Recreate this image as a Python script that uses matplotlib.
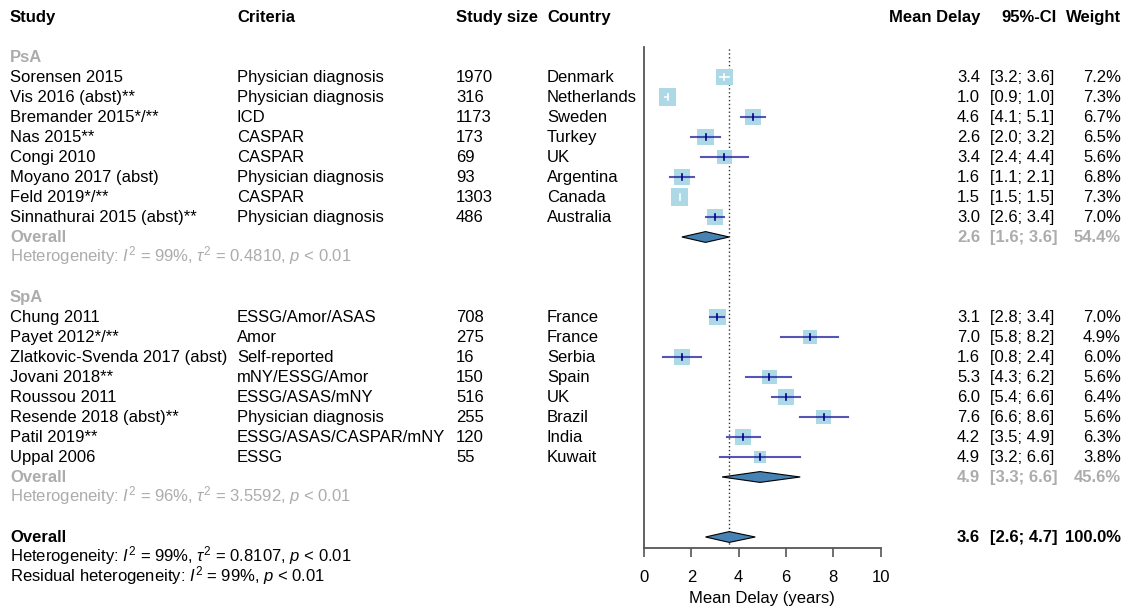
import matplotlib
matplotlib.use("Agg")
from matplotlib import pyplot as plt
from matplotlib import transforms
import numpy as np

plt.rcParams["font.family"] = ["Liberation Sans", "DejaVu Sans"]
plt.rcParams["mathtext.fontset"] = "custom"
plt.rcParams["mathtext.rm"] = "Liberation Sans"
plt.rcParams["mathtext.it"] = "Liberation Sans:italic"

# PsA studies
psa_study = ["Sorensen 2015", "Vis 2016 (abst)**", "Bremander 2015*/**", "Nas 2015**",
             "Congi 2010", "Moyano 2017 (abst)", "Feld 2019*/**", "Sinnathurai 2015 (abst)**"]
psa_criteria = ["Physician diagnosis", "Physician diagnosis", "ICD", "CASPAR",
                "CASPAR", "Physician diagnosis", "CASPAR", "Physician diagnosis"]
psa_size = [1970, 316, 1173, 173, 69, 93, 1303, 486]
psa_country = ["Denmark", "Netherlands", "Sweden", "Turkey", "UK", "Argentina", "Canada", "Australia"]
psa_mean = [3.4, 1.0, 4.6, 2.6, 3.4, 1.6, 1.5, 3.0]
psa_lo = [3.2, 0.9, 4.1, 2.0, 2.4, 1.1, 1.5, 2.6]
psa_hi = [3.6, 1.0, 5.1, 3.2, 4.4, 2.1, 1.5, 3.4]
psa_w = [7.2, 7.3, 6.7, 6.5, 5.6, 6.8, 7.3, 7.0]

# SpA studies
spa_study = ["Chung 2011", "Payet 2012*/**", "Zlatkovic-Svenda 2017 (abst)", "Jovani 2018**",
             "Roussou 2011", "Resende 2018 (abst)**", "Patil 2019**", "Uppal 2006"]
spa_criteria = ["ESSG/Amor/ASAS", "Amor", "Self-reported", "mNY/ESSG/Amor",
                "ESSG/ASAS/mNY", "Physician diagnosis", "ESSG/ASAS/CASPAR/mNY", "ESSG"]
spa_size = [708, 275, 16, 150, 516, 255, 120, 55]
spa_country = ["France", "France", "Serbia", "Spain", "UK", "Brazil", "India", "Kuwait"]
spa_mean = [3.1, 7.0, 1.6, 5.3, 6.0, 7.6, 4.2, 4.9]
spa_lo = [2.8, 5.8, 0.8, 4.3, 5.4, 6.6, 3.5, 3.2]
spa_hi = [3.4, 8.2, 2.4, 6.2, 6.6, 8.6, 4.9, 6.6]
spa_w = [7.0, 4.9, 6.0, 5.6, 6.4, 5.6, 6.3, 3.8]

# pooled estimates: mean, lower, upper, weight
psa_overall = [2.6, 1.6, 3.6, 54.4]
spa_overall = [4.9, 3.3, 6.6, 45.6]
all_overall = [3.6, 2.6, 4.7, 100.0]

psa_het = r"Heterogeneity: $I^2$ = 99%, $\tau^2$ = 0.4810, $p$ < 0.01"
spa_het = r"Heterogeneity: $I^2$ = 96%, $\tau^2$ = 3.5592, $p$ < 0.01"
all_het = r"Heterogeneity: $I^2$ = 99%, $\tau^2$ = 0.8107, $p$ < 0.01"
resid_het = r"Residual heterogeneity: $I^2$ = 99%, $p$ < 0.01"

GRAY = "#acacac"
W, H = 1128, 610

fig = plt.figure(figsize=(W / 100, H / 100), dpi=100)
ax = fig.add_axes([644 / W, 1 - 548 / H, (880.7 - 644) / W, (548 - 47) / H])
ax.set_xlim(0, 10)
ax.set_ylim(26.55, 1.5)
tr = transforms.blended_transform_factory(fig.transFigure, ax.transData)

col_x = {"study": 10, "crit": 237, "size": 456, "country": 547,
         "mean": 980, "ci": 990, "ci_r": 1057, "w": 1121}


def txt(px, row, s, ha="left", **kw):
    # baseline a bit below row centre so caps sit centred on the row
    ax.text(px / W, row + 0.24, s, transform=tr, ha=ha, va="baseline", fontsize=12,
            clip_on=False, **kw)


# header
txt(col_x["study"], 0, "Study", weight="bold")
txt(col_x["crit"], 0, "Criteria", weight="bold")
txt(col_x["size"], 0, "Study size", weight="bold")
txt(col_x["country"], 0, "Country", weight="bold")
txt(col_x["mean"], 0, "Mean Delay", ha="right", weight="bold")
txt(col_x["ci_r"], 0, "95%-CI", ha="right", weight="bold")
txt(col_x["w"], 0, "Weight", ha="right", weight="bold")


def draw_study(row, name, crit, size, country, m, lo, hi, w):
    txt(col_x["study"], row, name)
    txt(col_x["crit"], row, crit)
    txt(col_x["size"], row, str(size))
    txt(col_x["country"], row, country)
    txt(col_x["mean"], row, f"{m:.1f}", ha="right")
    txt(col_x["ci"], row, f"[{lo:.1f}; {hi:.1f}]")
    txt(col_x["w"], row, f"{w:.1f}%", ha="right")
    side_px = 6.33 * np.sqrt(w)
    ax.scatter([m], [row], marker="s", s=(side_px * 0.72) ** 2,
               color="#add8e6", edgecolors="none", zorder=2)
    half = side_px / 2 / 23.66
    inside = max(m - lo, hi - m) < 0.7 * half
    if inside:
        ax.plot([lo, hi], [row, row], color="white", lw=1.2, zorder=3)
        ax.plot([m, m], [row - 0.13, row + 0.13], color="white", lw=1.2, zorder=3)
    else:
        ax.plot([lo, hi], [row, row], color="#1c1c9c", alpha=0.75, lw=1.5, zorder=3)
        ax.plot([m, m], [row - 0.14, row + 0.14], color="#00008b", lw=1.2, zorder=4)


def draw_diamond(row, vals, color):
    m, lo, hi, w = vals
    ax.fill([lo, m, hi, m], [row, row - 0.27, row, row + 0.27],
            facecolor="#4682b4", edgecolor="black", lw=0.8, zorder=3)
    txt(col_x["study"], row, "Overall", weight="bold", color=color)
    txt(col_x["mean"], row, f"{m:.1f}", ha="right", weight="bold", color=color)
    txt(col_x["ci"], row, f"[{lo:.1f}; {hi:.1f}]", weight="bold", color=color)
    txt(col_x["w"], row, f"{w:.1f}%", ha="right", weight="bold", color=color)


# PsA block
txt(col_x["study"], 2, "PsA", weight="bold", color=GRAY)
for i in range(len(psa_study)):
    draw_study(3 + i, psa_study[i], psa_criteria[i], psa_size[i], psa_country[i],
               psa_mean[i], psa_lo[i], psa_hi[i], psa_w[i])
draw_diamond(11, psa_overall, GRAY)
txt(col_x["study"], 12, psa_het, color=GRAY)

# SpA block
txt(col_x["study"], 14, "SpA", weight="bold", color=GRAY)
for i in range(len(spa_study)):
    draw_study(15 + i, spa_study[i], spa_criteria[i], spa_size[i], spa_country[i],
               spa_mean[i], spa_lo[i], spa_hi[i], spa_w[i])
draw_diamond(23, spa_overall, GRAY)
txt(col_x["study"], 24, spa_het, color=GRAY)

# total
draw_diamond(26, all_overall, "black")
txt(col_x["study"], 27, all_het)
txt(col_x["study"], 28, resid_het)

ax.axvline(all_overall[0], color="#333333", ls=(0, (1.0, 1.8)), lw=1.0, zorder=1)

for s in ["top", "right"]:
    ax.spines[s].set_visible(False)
ax.spines["left"].set_color("#555555")
ax.spines["left"].set_linewidth(1.3)
ax.spines["bottom"].set_color("#555555")
ax.spines["bottom"].set_linewidth(1.3)
ax.set_yticks([])
ax.set_xticks(range(0, 11, 2))
ax.tick_params(axis="x", length=6.5, width=1.2, color="#555555", labelsize=12, pad=9)
ax.set_xlabel("Mean Delay (years)", fontsize=12, labelpad=5)

fig.savefig("out.png", dpi=100)
